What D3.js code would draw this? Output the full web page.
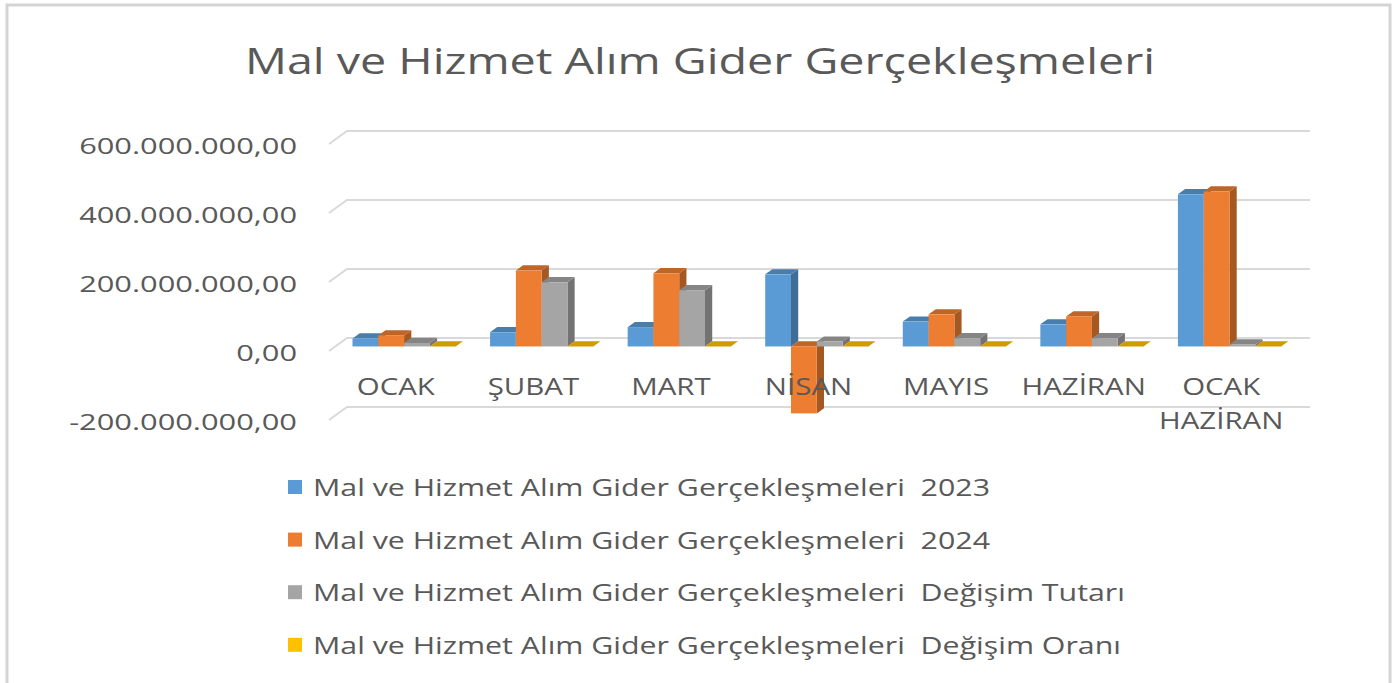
<!DOCTYPE html>
<html>
<head>
<meta charset="utf-8">
<script src="https://cdn.jsdelivr.net/npm/d3@7"></script>
<style>
  body { margin: 0; background: #fff; }
  text { font-family: "Open Sans", "Noto Sans", sans-serif; fill: #595959; }
</style>
</head>
<body>
<script>
// chart values
var categories = ["OCAK", "ŞUBAT", "MART", "NİSAN", "MAYIS", "HAZİRAN", "OCAK\nHAZİRAN"];
var seriesNames = [
  "Mal ve Hizmet Alım Gider Gerçekleşmeleri  2023",
  "Mal ve Hizmet Alım Gider Gerçekleşmeleri  2024",
  "Mal ve Hizmet Alım Gider Gerçekleşmeleri  Değişim Tutarı",
  "Mal ve Hizmet Alım Gider Gerçekleşmeleri  Değişim Oranı"
];
var values2023 = [23e6, 41e6, 56e6, 209e6, 72e6, 64e6, 441e6];
var values2024 = [32e6, 220e6, 212e6, -194e6, 93e6, 87e6, 449e6];
var valuesTutar = [10e6, 186e6, 163e6, 14e6, 24e6, 24e6, 6e6];
var valuesOran = [0.4, 4.4, 2.8, -0.9, 0.3, 0.4, 0.02];
var yTicks = [-200e6, 0, 200e6, 400e6, 600e6];
var colors = ["#5B9BD5", "#ED7D31", "#A5A5A5", "#FFC000"];
var title = "Mal ve Hizmet Alım Gider Gerçekleşmeleri";

var series = [values2023, values2024, valuesTutar, valuesOran];

var width = 1397, height = 683;
var svg = d3.select("body").append("svg").attr("width", width).attr("height", height);

// outer frame
svg.append("rect")
  .attr("x", 7).attr("y", 5).attr("width", 1383).attr("height", 690)
  .attr("fill", "none").attr("stroke", "#d4d4d4").attr("stroke-width", 3);

// oblique projection: d = 0 back wall, d = 1 front edge
var DX = -18, DY = 13;
function P(x, y, d) { return [x + DX * d, y + DY * d]; }

var x0 = d3.scaleBand().domain(d3.range(categories.length))
  .range([347, 1310]).paddingInner(0.25).paddingOuter(0.125);
var x1 = d3.scaleBand().domain(d3.range(series.length)).range([0, x0.bandwidth()]);
var y = d3.scaleLinear().domain([-200e6, 600e6]).range([407, 131]);

var fmt = d3.formatLocale({decimal: ",", thousands: ".", grouping: [3], currency: ["", ""], minus: "-"}).format(",.2f");

function stretch(sel, k) {
  sel.each(function () {
    var w = this.getComputedTextLength();
    d3.select(this).attr("textLength", w * k).attr("lengthAdjust", "spacingAndGlyphs");
  });
}

// title
var t = svg.append("text").attr("x", 700).attr("y", 74).attr("text-anchor", "middle")
  .style("font-size", "36px").text(title);
t.attr("textLength", 910).attr("lengthAdjust", "spacingAndGlyphs");

// gridlines with side wall edge
var grid = svg.append("g");
yTicks.forEach(function (v) {
  var a = P(x0.range()[0], y(v), 1), b = P(x0.range()[0], y(v), 0);
  grid.append("path")
    .attr("d", "M" + a + "L" + b + "L" + [x0.range()[1], y(v)])
    .attr("fill", "none").attr("stroke", "#d9d9d9").attr("stroke-width", 2);
});

// y labels
var yl = svg.append("g").selectAll("text").data(yTicks).join("text")
  .attr("x", 297).attr("y", function (d) { return P(0, y(d), 1)[1] + 1; })
  .attr("text-anchor", "end").attr("dominant-baseline", "central")
  .style("font-size", "22px").text(fmt);
stretch(yl, 1.4);

// 3D bars
var dF = 0.65, dB = 0.25;
var bars = svg.append("g");
categories.forEach(function (c, i) {
  series.forEach(function (s, j) {
    var v = s[i];
    var xa = x0(i) + x1(j), xb = xa + x1.bandwidth();
    var yTop = y(Math.max(v, 0)), yBot = y(Math.min(v, 0));
    var col = d3.color(colors[j]);
    var g = bars.append("g");
    // right side
    g.append("path")
      .attr("d", "M" + P(xb, yTop, dF) + "L" + P(xb, yTop, dB) + "L" + P(xb, yBot, dB) + "L" + P(xb, yBot, dF) + "Z")
      .attr("fill", col.darker(1.0));
    // top
    g.append("path")
      .attr("d", "M" + P(xa, yTop, dF) + "L" + P(xa, yTop, dB) + "L" + P(xb, yTop, dB) + "L" + P(xb, yTop, dF) + "Z")
      .attr("fill", col.darker(0.6));
    // front
    var f0 = P(xa, yTop, dF);
    g.append("rect")
      .attr("x", f0[0]).attr("y", f0[1])
      .attr("width", xb - xa).attr("height", Math.max(yBot - yTop, 0))
      .attr("fill", col);
  });
});

// category labels (drawn over the bars)
var cl = svg.append("g").selectAll("text").data(categories).join("text")
  .attr("text-anchor", "middle").style("font-size", "23px")
  .attr("transform", function (d, i) {
    return "translate(" + (P(x0(i) + x0.bandwidth() / 2, 0, 1)[0] - 2) + ",395)";
  });
cl.selectAll("tspan").data(function (d) { return d.split("\n"); }).join("tspan")
  .attr("x", 0).attr("dy", function (d, i) { return i ? 34 : 0; })
  .text(function (d) { return d; });
cl.selectAll("tspan").each(function () {
  var w = this.getComputedTextLength();
  d3.select(this).attr("textLength", w * 1.28).attr("lengthAdjust", "spacingAndGlyphs");
});

// legend
var lg = svg.append("g").selectAll("g").data(seriesNames).join("g")
  .attr("transform", function (d, i) { return "translate(288," + (487 + i * 52.6) + ")"; });
lg.append("rect").attr("x", 0).attr("y", -7).attr("width", 14).attr("height", 14)
  .attr("fill", function (d, i) { return colors[i]; });
var lt = lg.append("text").attr("x", 25).attr("dominant-baseline", "central")
  .style("font-size", "23px").style("white-space", "pre").text(function (d) { return d; });
var w0 = lt.node().getComputedTextLength();
stretch(lt, 677 / w0);
</script>
</body>
</html>
